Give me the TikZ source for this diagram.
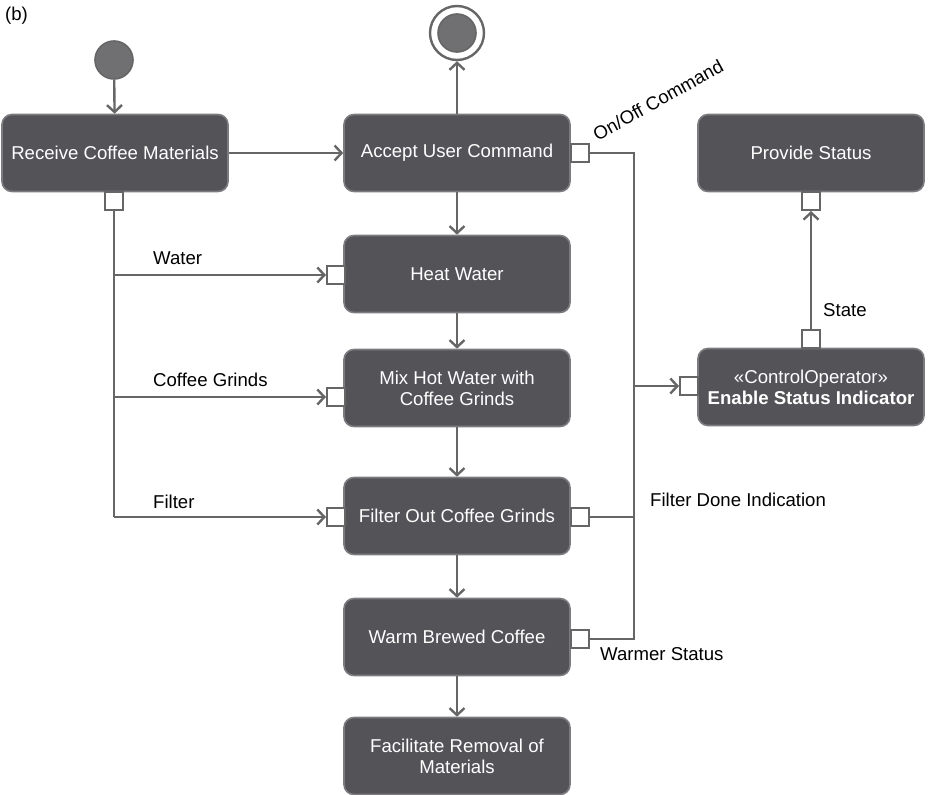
\documentclass[tikz,border=0pt]{standalone}
\usepackage{fontspec}
\setmainfont{Liberation Sans}
\usepackage{tikz}
\usetikzlibrary{arrows.meta,positioning,calc}
\definecolor{boxfill}{RGB}{84,83,88}
\definecolor{boxedge}{RGB}{125,123,128}
\definecolor{linegray}{RGB}{102,102,102}
\definecolor{dotgray}{RGB}{112,112,114}

\tikzset{
  activity/.style={rectangle, rounded corners=10pt, minimum width=226pt, minimum height=77pt,
    fill=boxfill, draw=boxedge, line width=1.6pt, text=white, align=center, inner sep=2pt},
  pin/.style={rectangle, minimum size=18pt, inner sep=0pt, fill=white, draw=linegray, line width=2pt},
  flow/.style={draw=linegray, line width=2.4pt, -{Straight Barb[length=7pt,width=15pt]}},
  wire/.style={draw=linegray, line width=2.4pt},
  lbl/.style={anchor=west, inner sep=0pt, text=black}
}

\begin{document}
\begin{tikzpicture}[x=1pt, y=-1pt, font=\fontsize{18.6}{21}\selectfont]
\useasboundingbox (0,0) rectangle (929,795);
\node[lbl] (tag) at (5,16) {(b)};

% start and end
\node[circle, minimum size=38pt, inner sep=0pt, fill=dotgray, draw=linegray, line width=1.6pt] (init) at (114,60) {};
\node[circle, minimum size=54pt, inner sep=0pt, fill=white, draw=linegray, line width=2.4pt] (fin) at (457,33) {};
\node[circle, minimum size=38pt, inner sep=0pt, fill=dotgray, draw=linegray, line width=1.6pt] (finin) at (457,33) {};

% actions
\node[activity] (recv) at (115,153) {Receive Coffee Materials};
\node[activity] (acc) at (457,153) {Accept User Command};
\node[activity] (heat) at (457,274) {Heat Water};
\node[activity] (mix) at (457,388) {Mix Hot Water with\\Coffee Grinds};
\node[activity] (filt) at (457,516) {Filter Out Coffee Grinds};
\node[activity] (warm) at (457,637) {Warm Brewed Coffee};
\node[activity] (rem) at (457,756) {Facilitate Removal of\\Materials};
\node[activity] (prov) at (811,153) {Provide Status};
\node[activity] (enab) at (811,387) {«ControlOperator»\\\textbf{Enable Status Indicator}};

% pins
\node[pin] (recvp) at (114,201) {};
\node[pin] (accp) at (580,153) {};
\node[pin] (heatp) at (336,275) {};
\node[pin] (mixp) at (336,397) {};
\node[pin] (filtinp) at (336,517) {};
\node[pin] (filtoutp) at (580,517) {};
\node[pin] (warmp) at (580,639) {};
\node[pin] (provp) at (811,201) {};
\node[pin] (enabinp) at (689,386) {};
\node[pin] (enabstp) at (811,339) {};

\coordinate (jw) at (114,275);
\coordinate (jg) at (114,397);
\coordinate (jf) at (114,517);
\coordinate (bt) at (634,153);
\coordinate (bf) at (634,517);
\coordinate (be) at (634,386);
\coordinate (bb) at (634,639);

% control flow
\draw[flow] (init) -- (recv);
\draw[flow] (recv) -- (acc);
\draw[flow] (acc) -- (fin);
\draw[flow] (acc) -- (heat);
\draw[flow] (heat) -- (mix);
\draw[flow] (mix) -- (filt);
\draw[flow] (filt) -- (warm);
\draw[flow] (warm) -- (rem);

% object flow
\draw[wire] (recvp) -- (jf);
\draw[flow] (jw) -- (heatp);
\draw[flow] (jg) -- (mixp);
\draw[flow] (jf) -- (filtinp);
\draw[wire] (accp) -- (bt) -- (bb) -- (warmp);
\draw[wire] (filtoutp) -- (bf);
\draw[flow] (be) -- (enabinp);
\draw[flow] (enabstp) -- (provp);

% labels
\node[lbl] (lw) at (153,258) {Water};
\node[lbl] (lg) at (153,380) {Coffee Grinds};
\node[lbl] (lf) at (153,502) {Filter};
\node[lbl] (ld) at (650,500) {Filter Done Indication};
\node[lbl] (lm) at (600,654) {Warmer Status};
\node[lbl] (ls) at (823,310) {State};
\node[rotate=29, inner sep=0pt] (lo) at (658,100) {On/Off Command};
\end{tikzpicture}
\end{document}
